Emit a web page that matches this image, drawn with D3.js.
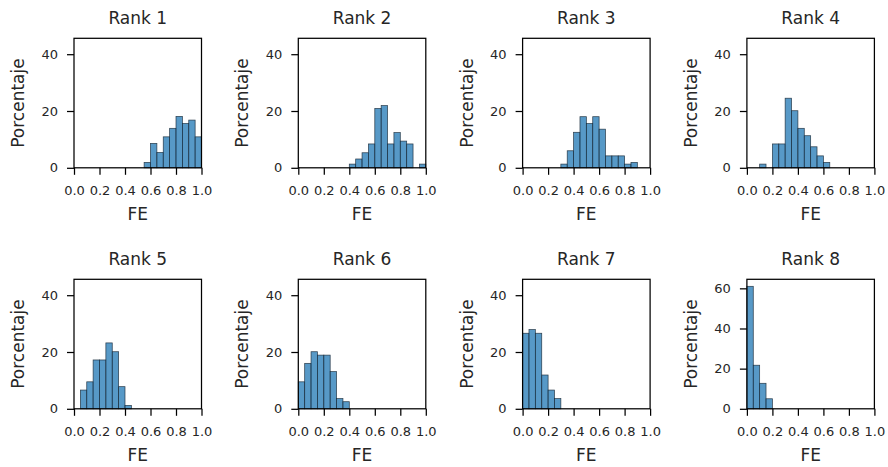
<!DOCTYPE html>
<html>
<head>
<meta charset="utf-8">
<script src="https://cdn.jsdelivr.net/npm/d3@7"></script>
<style>
  body { margin: 0; background: #fff; }
  text { font-family: "DejaVu Sans", sans-serif; fill: #262626; }
  .tick text { font-size: 13px; }
  .title, .label { font-size: 17px; }
</style>
</head>
<body>
<div id="wrapper"></div>
<script>
// histogram bins (left edges, width 0.05)
const binStarts = [0, 0.05, 0.1, 0.15, 0.2, 0.25, 0.3, 0.35, 0.4, 0.45,
                   0.5, 0.55, 0.6, 0.65, 0.7, 0.75, 0.8, 0.85, 0.9, 0.95]
const binWidth = 0.05

const ranks = ["Rank 1", "Rank 2", "Rank 3", "Rank 4", "Rank 5", "Rank 6", "Rank 7", "Rank 8"]

// percentage per bin
const rank1 = [0, 0, 0, 0, 0, 0, 0, 0, 0, 0, 0, 1.9, 8.6, 5.4, 10.9, 13.9, 18.1, 15.6, 16.8, 10.9]
const rank2 = [0, 0, 0, 0, 0, 0, 0, 0, 1.3, 3.1, 5.3, 8.4, 20.9, 21.9, 8.4, 12.4, 9.4, 8.4, 0, 1.3]
const rank3 = [0, 0, 0, 0, 0, 0, 1.3, 6, 12.5, 18, 15.6, 18, 13.6, 4.2, 4.2, 4.2, 1.3, 1.9, 0, 0]
const rank4 = [0, 0, 1.3, 0, 8.4, 8.4, 24.5, 20.1, 13.9, 11.3, 7.4, 4.2, 1.9, 0, 0, 0, 0, 0, 0, 0]
const rank5 = [0, 6.6, 9.5, 17.2, 17.2, 23.2, 20.1, 7.8, 1.2, 0, 0, 0, 0, 0, 0, 0, 0, 0, 0, 0]
const rank6 = [9.5, 16, 20.1, 18.9, 18.9, 13.1, 3.6, 2.5, 0, 0, 0, 0, 0, 0, 0, 0, 0, 0, 0, 0]
const rank7 = [26.6, 27.9, 26.6, 11.9, 6.6, 3.6, 0, 0, 0, 0, 0, 0, 0, 0, 0, 0, 0, 0, 0, 0]
const rank8 = [61, 21.7, 12.7, 5, 0, 0, 0, 0, 0, 0, 0, 0, 0, 0, 0, 0, 0, 0, 0, 0]
const series = [rank1, rank2, rank3, rank4, rank5, rank6, rank7, rank8]

const xTicks = [0, 0.2, 0.4, 0.6, 0.8, 1.0]
const yTicksShared = [0, 20, 40]
const yTicksLast = [0, 20, 40, 60]
const yMaxShared = 45.6
const yMaxLast = 64.5

const dimensions = {
    width: 888,
    height: 467,
    panelWidth: 127.5,
    panelHeight: 129.5,
    left0: 74,
    colStep: 224.3,
    tops: [38.3, 279.3],
}

const svg = d3.select("#wrapper")
    .append("svg")
        .attr("width", dimensions.width)
        .attr("height", dimensions.height)

const xScale = d3.scaleLinear()
    .domain([0, 1])
    .range([0, dimensions.panelWidth])

ranks.forEach((rank, i) => {
    const col = i % 4
    const row = Math.floor(i / 4)
    const values = series[i]
    const isLast = i === 7

    const yScale = d3.scaleLinear()
        .domain([0, isLast ? yMaxLast : yMaxShared])
        .range([dimensions.panelHeight, 0])

    const bounds = svg.append("g")
        .attr("transform", `translate(${dimensions.left0 + col * dimensions.colStep}, ${dimensions.tops[row]})`)

    // bars (zero-height bins drawn too, like seaborn)
    bounds.append("g")
        .selectAll("rect")
        .data(binStarts)
        .join("rect")
            .attr("x", (d) => xScale(d))
            .attr("width", xScale(binWidth))
            .attr("y", (d, j) => yScale(values[j]))
            .attr("height", (d, j) => dimensions.panelHeight - yScale(values[j]))
            .attr("fill", "#1f77b4")
            .attr("fill-opacity", 0.75)
            .attr("stroke", "#1a2a38")
            .attr("stroke-opacity", 0.85)
            .attr("stroke-width", 0.75)

    // frame
    bounds.append("rect")
        .attr("width", dimensions.panelWidth)
        .attr("height", dimensions.panelHeight)
        .attr("fill", "none")
        .attr("stroke", "#000")
        .attr("stroke-width", 1.25)

    const xAxis = bounds.append("g")
        .attr("transform", `translate(0, ${dimensions.panelHeight})`)
        .call(d3.axisBottom(xScale)
            .tickValues(xTicks)
            .tickFormat(d3.format(".1f"))
            .tickSize(7)
            .tickPadding(11)
            .tickSizeOuter(0))
    xAxis.select(".domain").remove()

    const yAxis = bounds.append("g")
        .call(d3.axisLeft(yScale)
            .tickValues(isLast ? yTicksLast : yTicksShared)
            .tickSize(7)
            .tickPadding(9)
            .tickSizeOuter(0))
    yAxis.select(".domain").remove()

    svg.selectAll(".tick line").attr("stroke", "#000").attr("stroke-width", 1.25)
    svg.selectAll(".tick text").attr("fill", "#2a2a2a")

    bounds.append("text")
        .attr("class", "title")
        .attr("x", dimensions.panelWidth / 2)
        .attr("y", -14)
        .attr("text-anchor", "middle")
        .text(rank)

    bounds.append("text")
        .attr("class", "label")
        .attr("x", dimensions.panelWidth / 2)
        .attr("y", dimensions.panelHeight + 52)
        .attr("text-anchor", "middle")
        .text("FE")

    bounds.append("text")
        .attr("class", "label")
        .attr("transform", `translate(-50, ${dimensions.panelHeight / 2}) rotate(-90)`)
        .attr("text-anchor", "middle")
        .text("Porcentaje")
})
</script>
</body>
</html>
